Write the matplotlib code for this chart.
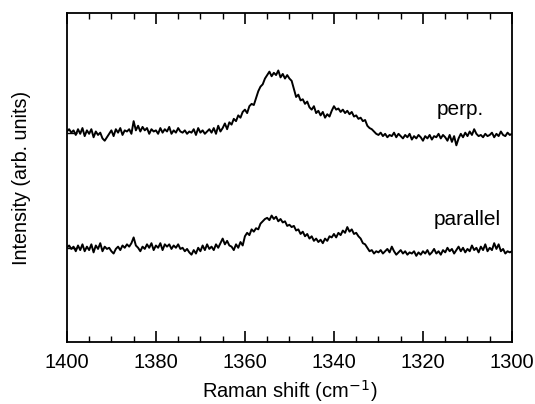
import numpy as np
import matplotlib
matplotlib.use("Agg")
import matplotlib.pyplot as plt
from matplotlib.ticker import MultipleLocator

plt.rcParams['font.family'] = ['Liberation Sans', 'DejaVu Sans']

# Raman shift grid (cm-1), 0.5 cm-1 steps from 1400 down to 1300
shift = np.arange(1400, 1299.75, -0.5)

# perpendicular polarisation (arb. units, offset)
perp = [
    2.01, 2.03, 2.00, 2.02, 1.98, 2.03, 1.99, 2.04, 1.97, 2.02,
    1.99, 2.03, 1.96, 2.01, 1.98, 2.00, 1.95, 1.93, 1.96, 1.99,
    2.02, 1.97, 2.03, 2.00, 2.04, 1.98, 2.02, 2.01, 2.03, 1.99,
    2.10, 2.02, 2.06, 2.01, 2.05, 2.02, 2.04, 1.99, 2.03, 2.01,
    2.02, 1.99, 2.04, 2.00, 2.03, 2.01, 2.05, 1.99, 2.02, 2.00,
    2.04, 2.01, 2.00, 2.02, 1.99, 2.01, 2.00, 2.03, 1.98, 2.04,
    2.00, 2.02, 1.99, 2.01, 2.03, 2.00, 2.04, 1.99, 2.06, 2.01,
    2.04, 2.08, 2.03, 2.09, 2.07, 2.12, 2.10, 2.15, 2.13, 2.18,
    2.20, 2.17, 2.23, 2.25, 2.24, 2.30, 2.36, 2.40, 2.42, 2.47,
    2.50, 2.53, 2.49, 2.52, 2.50, 2.54, 2.48, 2.51, 2.47, 2.50,
    2.47, 2.45, 2.38, 2.31, 2.33, 2.28, 2.29, 2.25, 2.27, 2.22,
    2.20, 2.23, 2.17, 2.19, 2.15, 2.18, 2.13, 2.16, 2.14, 2.19,
    2.23, 2.20, 2.21, 2.18, 2.20, 2.17, 2.19, 2.16, 2.18, 2.14,
    2.15, 2.12, 2.13, 2.10, 2.11, 2.06, 2.04, 2.03, 2.01, 1.99,
    1.98, 2.00, 1.97, 1.99, 1.96, 1.98, 1.97, 2.00, 1.96, 1.99,
    1.97, 1.95, 1.98, 1.96, 1.99, 1.94, 1.97, 1.95, 1.98, 1.96,
    1.93, 1.97, 1.95, 1.98, 1.94, 1.97, 1.96, 1.99, 1.95, 1.98,
    1.96, 1.93, 1.98, 1.92, 1.97, 1.89, 1.95, 1.99, 1.96, 2.00,
    1.97, 2.01, 1.98, 2.03, 1.99, 1.97, 1.98, 1.96, 1.99, 1.97,
    1.98, 2.00, 1.96, 1.99, 1.97, 2.01, 1.98, 1.97, 2.00, 1.98,
    1.99,
]

# parallel polarisation
parallel = [
    1.00, 1.02, 0.99, 1.01, 0.97, 1.02, 0.98, 1.03, 0.97, 1.01,
    0.98, 1.03, 0.96, 1.02, 0.99, 1.04, 0.97, 1.01, 0.99, 1.00,
    0.97, 0.95, 0.99, 1.01, 0.98, 1.02, 1.00, 1.03, 1.01, 1.04,
    1.09, 1.02, 1.00, 0.97, 1.01, 0.99, 1.03, 1.00, 1.04, 0.98,
    1.02, 1.00, 1.04, 0.98, 1.03, 1.01, 1.03, 0.99, 1.02, 1.00,
    1.03, 0.99, 1.00, 0.97, 0.99, 0.96, 0.94, 0.98, 0.95, 1.00,
    0.97, 1.02, 0.98, 1.03, 0.99, 1.01, 0.98, 1.03, 1.00, 1.04,
    1.08, 1.03, 1.06, 1.02, 1.01, 0.98, 1.03, 1.00, 1.05, 1.02,
    1.10, 1.13, 1.11, 1.16, 1.14, 1.17, 1.16, 1.21, 1.23, 1.25,
    1.26, 1.24, 1.28, 1.25, 1.27, 1.23, 1.25, 1.22, 1.23, 1.19,
    1.20, 1.18, 1.19, 1.15, 1.16, 1.12, 1.14, 1.10, 1.12, 1.08,
    1.10, 1.06, 1.08, 1.05, 1.07, 1.04, 1.08, 1.06, 1.10, 1.09,
    1.12, 1.09, 1.13, 1.11, 1.15, 1.13, 1.18, 1.14, 1.16, 1.12,
    1.13, 1.10, 1.08, 1.04, 1.03, 1.00, 0.97, 0.98, 0.95, 0.97,
    0.96, 0.98, 0.95, 0.97, 0.99, 0.96, 1.01, 0.97, 0.94, 0.96,
    0.98, 0.95, 0.97, 0.94, 0.96, 0.95, 0.97, 0.93, 0.96, 0.94,
    0.97, 0.95, 0.98, 0.94, 0.96, 0.99, 0.95, 0.97, 0.94, 0.98,
    0.96, 1.00, 0.97, 0.99, 0.95, 0.98, 1.01, 0.97, 1.00, 0.96,
    0.99, 0.97, 1.02, 0.98, 1.00, 0.96, 1.01, 0.98, 1.03, 0.97,
    1.00, 0.98, 1.04, 0.99, 1.03, 0.97, 0.99, 0.95, 0.97, 0.96,
    0.97,
]

fig = plt.figure(figsize=(5.35, 4.04), dpi=100)
ax = fig.add_axes([0.125, 0.153, 0.832, 0.815])

ax.plot(shift, perp, color='black', lw=1.4)
ax.plot(shift, parallel, color='black', lw=1.4)

ax.text(1311.6, 2.20, 'perp.', fontsize=15, ha='center', va='center')
ax.text(1310, 1.25, 'parallel', fontsize=15, ha='center', va='center')

ax.set_xlim(1400, 1300)
ax.set_ylim(0.18, 3.04)

ax.xaxis.set_major_locator(MultipleLocator(20))
ax.xaxis.set_minor_locator(MultipleLocator(5))
ax.set_yticks([1, 2])
ax.set_yticklabels([])

ax.tick_params(axis='x', which='major', direction='in', length=8, width=1.2,
               top=True, labelsize=14.5, pad=8)
ax.tick_params(axis='x', which='minor', direction='in', length=4, width=1.0, top=True)
ax.tick_params(axis='y', which='major', direction='in', length=7, width=1.0, right=False)

for s in ax.spines.values():
    s.set_linewidth(1.3)

ax.set_xlabel('Raman shift (cm$^{-1}$)', fontsize=14.5, labelpad=4)
ax.set_ylabel('Intensity (arb. units)', fontsize=14.2, labelpad=22)

fig.savefig('out.png', dpi=100)
